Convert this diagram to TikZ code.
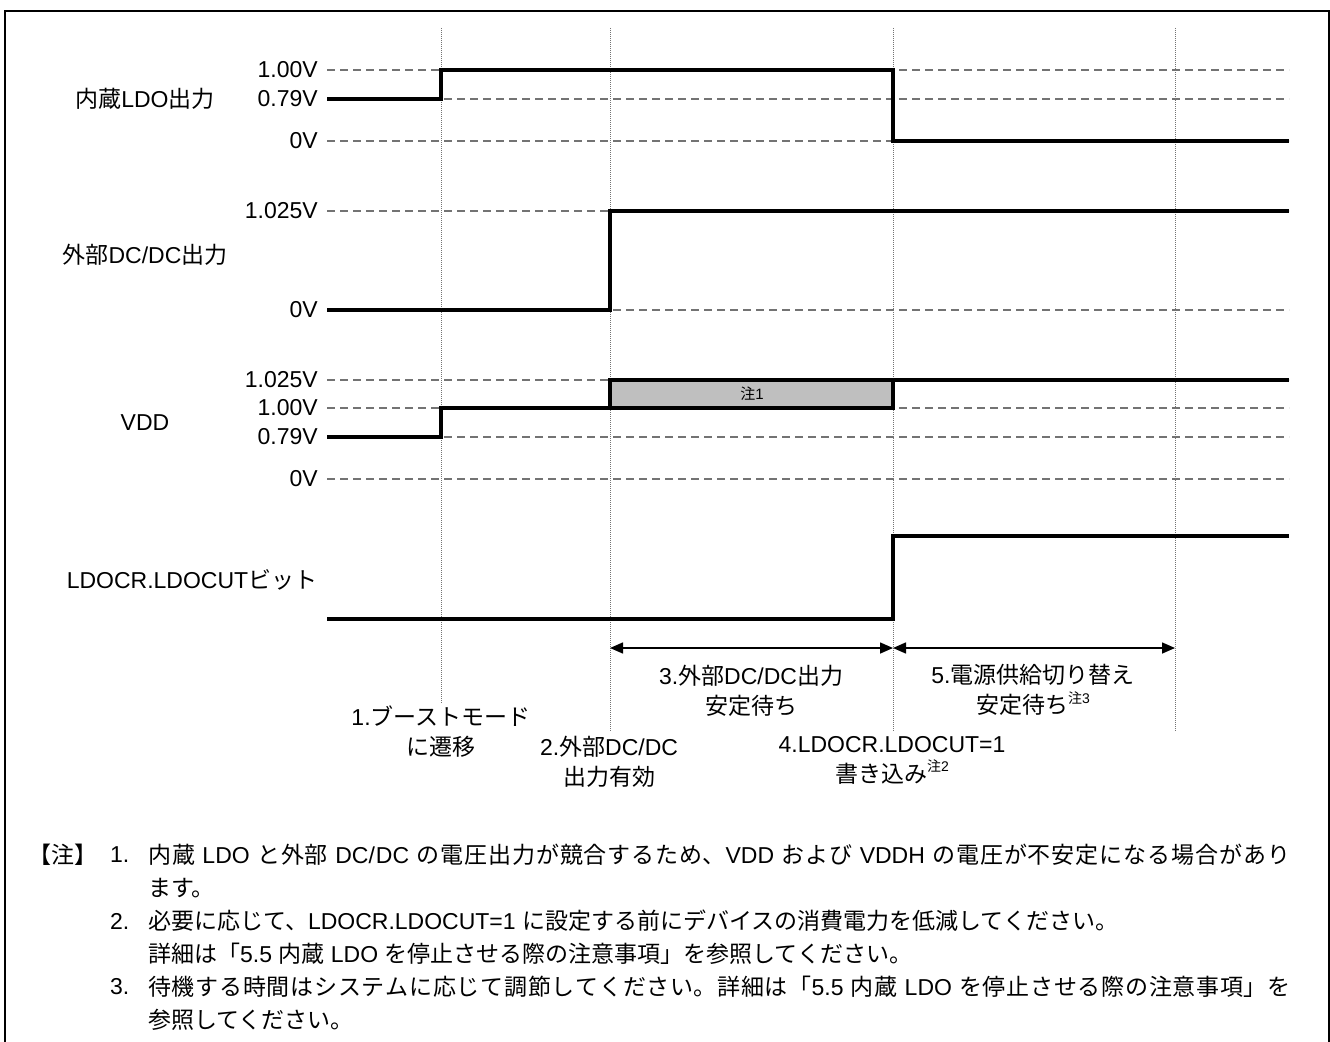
\documentclass[tikz,border=0pt]{standalone}
\usepackage{fontspec}
\setmainfont{Liberation Sans}
\newfontfamily\jp{Noto Sans CJK JP}
\usetikzlibrary{arrows.meta}
\XeTeXlinebreaklocale "ja"
\XeTeXlinebreakskip=0pt plus 3pt
\newcommand{\J}[1]{{\jp #1}}
\newcommand{\chu}[1]{\raisebox{0.45em}{\fontsize{14}{14}\selectfont\J{注}#1}}
\newcommand{\fullline}[1]{\parbox{1142pt}{\parfillskip=0pt #1}}

\tikzset{
  wave/.style={line width=4pt},
  vref/.style={line width=1.2pt, black!55, dash pattern=on 8pt off 5pt},
  tguide/.style={line width=0.8pt, black!55, dash pattern=on 1pt off 1pt},
  lbl/.style={inner sep=0pt, font=\fontsize{23}{30}\selectfont},
  dim/.style={{Triangle[length=13pt,width=11pt]}-{Triangle[length=13pt,width=11pt]}, line width=1.5pt},
}

\begin{document}
\begin{tikzpicture}[x=1pt,y=-1pt]
      \useasboundingbox (0,0) rectangle (1330,1041);
      \draw[line width=2pt] (5,1050) -- (5,11) -- (1329,11) -- (1329,1050);

      % time marks
      \draw[tguide] (441,28) -- (441,704);
      \draw[tguide] (610,28) -- (610,732);
      \draw[tguide] (893,28) -- (893,732);
      \draw[tguide] (1175,28) -- (1175,732);

      % voltage levels
      \foreach \y in {70,99,141,211,310,380,408,437,479}
        \draw[vref] (327,\y) -- (1289,\y);

      \node[lbl, anchor=east] (ldoH) at (318,70) {1.00V};
      \node[lbl, anchor=east] (ldoM) at (318,99) {0.79V};
      \node[lbl, anchor=east] (ldoZ) at (318,141) {0V};
      \node[lbl, anchor=east] (dcH) at (318,211) {1.025V};
      \node[lbl, anchor=east] (dcZ) at (318,310) {0V};
      \node[lbl, anchor=east] (vddH) at (318,380) {1.025V};
      \node[lbl, anchor=east] (vddM) at (318,408) {1.00V};
      \node[lbl, anchor=east] (vddL) at (318,437) {0.79V};
      \node[lbl, anchor=east] (vddZ) at (318,479) {0V};

      \node[lbl] (ldo) at (145,99) {\J{内蔵}LDO\J{出力}};
      \node[lbl] (dcdc) at (145,255) {\J{外部}DC/DC\J{出力}};
      \node[lbl] (vdd) at (145,423) {VDD};
      \node[lbl] (cut) at (192,580) {LDOCR.LDOCUT\J{ビット}};

      % waveforms
      \draw[wave] (327,99) -- (441,99) -- (441,70) -- (893,70) -- (893,141) -- (1289,141);
      \draw[wave] (327,310) -- (610,310) -- (610,211) -- (1289,211);
      \draw[wave, fill=black!25] (610,380) rectangle (893,408);
      \draw[wave] (327,437) -- (441,437) -- (441,408) -- (893,408) -- (893,380) -- (1289,380);
      \draw[wave] (327,619) -- (893,619) -- (893,536) -- (1289,536);
      \node[inner sep=0pt, font=\fontsize{15}{18}\selectfont] (n1) at (752,394) {\J{注}1};

      % intervals
      \coordinate (d2) at (610,648);
      \coordinate (d3) at (893,648);
      \coordinate (d4) at (1175,648);
      \draw[dim] (d2) -- (d3);
      \draw[dim] (d3) -- (d4);

      \node[lbl, align=center] (s1) at (441,732) {1.\J{ブーストモード}\\\J{に遷移}};
      \node[lbl, align=center] (s2) at (609,762) {2.\J{外部}DC/DC\\\J{出力有効}};
      \node[lbl, align=center] (s3) at (751,691) {3.\J{外部}DC/DC\J{出力}\\\J{安定待ち}};
      \node[lbl, align=center] (s4) at (892,760) {4.LDOCR.LDOCUT=1\\\J{書き込み}\chu{2}};
      \node[lbl, align=center] (s5) at (1033,690) {5.\J{電源供給切り替え}\\\J{安定待ち}\chu{3}};

      % notes
      \node[lbl, anchor=west] (nt) at (28,855) {\J{【注】}};
      \node[lbl, anchor=west] (k1) at (110,855) {1.};
      \node[lbl, anchor=west] (l1) at (148,855) {\fullline{\J{内蔵} LDO \J{と外部} DC/DC \J{の電圧出力が競合するため、}VDD \J{および} VDDH \J{の電圧が不安定になる場合があり}}};
      \node[lbl, anchor=west] (l2) at (148,888) {\J{ます。}};
      \node[lbl, anchor=west] (k2) at (110,921) {2.};
      \node[lbl, anchor=west] (l3) at (148,921) {\J{必要に応じて、}LDOCR.LDOCUT=1 \J{に設定する前にデバイスの消費電力を低減してください。}};
      \node[lbl, anchor=west] (l4) at (148,954) {\J{詳細は「}5.5 \J{内蔵} LDO \J{を停止させる際の注意事項」を参照してください。}};
      \node[lbl, anchor=west] (k3) at (110,987) {3.};
      \node[lbl, anchor=west] (l5) at (148,987) {\fullline{\J{待機する時間はシステムに応じて調節してください。詳細は「}5.5 \J{内蔵} LDO \J{を停止させる際の注意事項」を}}};
      \node[lbl, anchor=west] (l6) at (148,1020) {\J{参照してください。}};
\end{tikzpicture}
\end{document}
